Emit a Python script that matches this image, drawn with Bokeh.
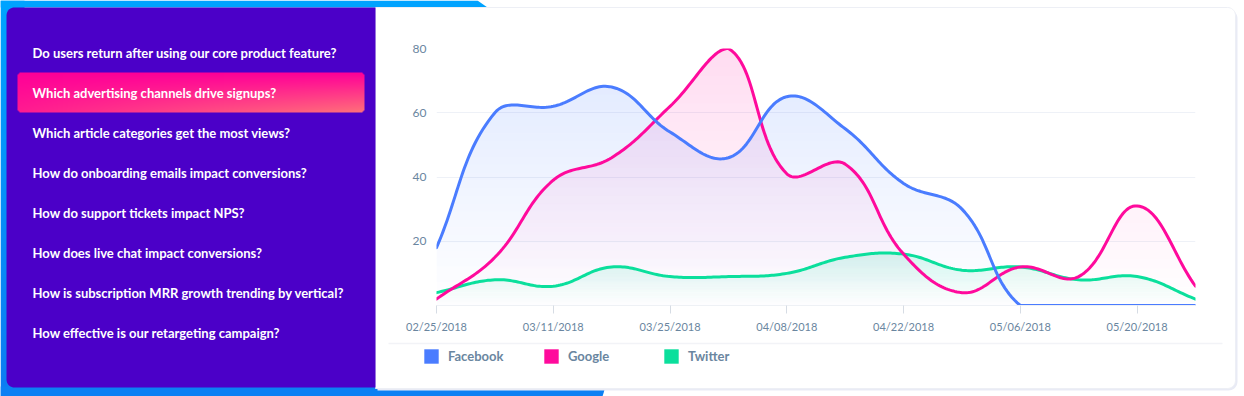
import numpy as np
import pandas as pd
from bokeh.plotting import figure
from bokeh.models import (Range1d, FixedTicker, DatetimeTickFormatter, Legend, LegendItem)
from bokeh.core.properties import value
from bokeh.embed import file_html
from bokeh.resources import INLINE

# ---------------- data ----------------
questions = [
    "Do users return after using our core product feature?",
    "Which advertising channels drive signups?",
    "Which article categories get the most views?",
    "How do onboarding emails impact conversions?",
    "How do support tickets impact NPS?",
    "How does live chat impact conversions?",
    "How is subscription MRR growth trending by vertical?",
    "How effective is our retargeting campaign?",
]
selected_question = 1

dates = ["2018-02-25", "2018-03-04", "2018-03-11", "2018-03-18", "2018-03-25",
         "2018-04-01", "2018-04-08", "2018-04-15", "2018-04-22", "2018-04-29",
         "2018-05-06", "2018-05-13", "2018-05-20", "2018-05-27"]
facebook = [18, 60, 62, 68, 54, 46, 65, 55, 38, 30, 0, 0, 0, 0]
google = [2, 15, 39, 46, 62, 80, 41, 44, 16, 4, 12, 9, 31, 6]
twitter = [4, 8, 6, 12, 9, 9, 10, 15, 16, 11, 12, 8, 9, 2]

series_names = ["Facebook", "Google", "Twitter"]
series_values = [facebook, google, twitter]
series_colors = ["#4A7CFF", "#FF0A9C", "#0BDF9C"]

tick_dates = ["2018-02-25", "2018-03-11", "2018-03-25", "2018-04-08",
              "2018-04-22", "2018-05-06", "2018-05-20"]
y_ticks = [20, 40, 60, 80]

FONT = "Lato"
LABEL_COLOR = "#6A86A0"
WIDTH, HEIGHT = 1244, 396


def rrect(x0, x1, y0, y1, r_tl, r_tr, r_br, r_bl, n=10):
    """Rounded rectangle outline in screen-like coords (y down); returns data xs, ys."""
    xs, ys = [], []
    corners = [((x1 - r_tr, y0 + r_tr), r_tr, -90, 0),
               ((x1 - r_br, y1 - r_br), r_br, 0, 90),
               ((x0 + r_bl, y1 - r_bl), r_bl, 90, 180),
               ((x0 + r_tl, y0 + r_tl), r_tl, 180, 270)]
    for (cx, cy), rad, a0, a1 in corners:
        a = np.radians(np.linspace(a0, a1, n))
        xs.extend(cx + rad * np.cos(a))
        ys.extend(-(cy + rad * np.sin(a)))
    return xs, ys


def gradient_image(h, w, c_a, c_b, tfunc):
    img = np.empty((h, w), dtype=np.uint32)
    v = img.view(dtype=np.uint8).reshape((h, w, 4))
    t = tfunc(h, w)
    for ch in range(3):
        v[..., ch] = (c_a[ch] + (c_b[ch] - c_a[ch]) * t).astype(np.uint8)
    v[..., 3] = 255
    return img, v


# ---------------- background / decoration canvas ----------------
bg = figure(width=WIDTH, height=HEIGHT, x_range=Range1d(0, WIDTH), y_range=Range1d(-HEIGHT, 0),
            x_axis_type=None, y_axis_type=None, output_backend="svg", toolbar_location=None,
            min_border=0, min_border_left=0, min_border_right=0, min_border_top=0,
            min_border_bottom=0, background_fill_color="white", border_fill_color="white",
            outline_line_color=None)

edge_img, _ = gradient_image(HEIGHT, 24, (12, 124, 242), (0, 164, 255),
                             lambda h, w: np.repeat(np.linspace(0, 1, h)[:, None], w, axis=1))
bg.image_rgba(image=[edge_img], x=0, y=-HEIGHT, dw=24, dh=HEIGHT)
bg.patch(x=[0, 477, 487, 0], y=[0, 0, -7, -7], fill_color="#00A3FF", line_color=None)
bg.patch(x=[0, 605, 602, 0], y=[-386, -386, -396, -396], fill_color="#0C80F3", line_color=None)

sx, sy = rrect(377, 1237, 9, 390, 0, 9, 9, 0)
bg.patch(x=sx, y=sy, fill_color="#E9EBF5", line_color=None)
cx_, cy_ = rrect(375, 1235, 7, 388, 0, 8, 8, 0)
bg.patch(x=cx_, y=cy_, fill_color="white", line_color="#EDEFF5", line_width=1)

px_, py_ = rrect(6, 375, 7, 387, 8, 0, 0, 8)
bg.patch(x=px_, y=py_, fill_color="#4B00C8", line_color=None)

H, W = 40, 347


def pill_t(h, w):
    u = np.linspace(0, 1, w)[None, :]
    vt = 1 - np.linspace(0, 1, h)[:, None]   # row 0 = bottom
    return np.clip(vt * (0.25 + 0.75 * u), 0, 1)


pill, pv = gradient_image(H, W, (255, 0, 152), (255, 112, 122), pill_t)
rr = 4
yy, xx = np.mgrid[0:H, 0:W]
for ccx, ccy in [(rr, rr), (W - 1 - rr, rr), (rr, H - 1 - rr), (W - 1 - rr, H - 1 - rr)]:
    in_corner = ((xx < rr) | (xx > W - 1 - rr)) & ((yy < rr) | (yy > H - 1 - rr))
    near = (np.abs(xx - ccx) <= rr) & (np.abs(yy - ccy) <= rr)
    far = np.hypot(xx - ccx, yy - ccy) > rr + 0.5
    mask = in_corner & near & far
    pv[..., 0][mask] = 75; pv[..., 1][mask] = 0; pv[..., 2][mask] = 200
sel_y = -(52 + 40 * selected_question)
bg.image_rgba(image=[pill], x=17, y=sel_y - 20, dw=W, dh=H)

q_y = [-(52 + 40 * i) for i in range(len(questions))]
bg.text(x=[32] * len(questions), y=q_y, text=questions, text_baseline="middle",
        text_align="left", text_font=value(FONT), text_font_style="bold",
        text_font_size="13px", text_color="white")

bg.line(x=[388, 1222], y=[-343, -343], line_color="#F2F3F7", line_width=1.5)

# legend for the three series (swatch renderers hold no visible geometry)
items = []
for name, col in zip(series_names, series_colors):
    r_ = bg.quad(left=[np.nan], right=[np.nan], top=[np.nan], bottom=[np.nan],
                 fill_color=col, line_color=None)
    items.append(LegendItem(label=name, renderers=[r_]))
legend = Legend(items=items, location=(422, 31), orientation="horizontal",
                glyph_width=18, glyph_height=18, label_height=18, label_standoff=8,
                label_width=94, spacing=0, padding=0, margin=0,
                border_line_color=None, background_fill_alpha=0,
                label_text_font=FONT, label_text_font_style="bold",
                label_text_font_size="13px", label_text_color=LABEL_COLOR)
bg.add_layout(legend)

# ---------------- chart ----------------
start_ms = pd.Timestamp(dates[0]).value / 1e6
end_ms = pd.Timestamp(dates[-1]).value / 1e6
days = np.array([(pd.Timestamp(d) - pd.Timestamp(dates[0])).days for d in dates], float)

PX_DAY = 759.0 / 91.0
PX_VAL = 257.0 / 80.0


def chartjs_spline(dd, vals, top_val, tension=0.4, samples=30):
    px = np.asarray(dd, float) * PX_DAY
    py = np.asarray(vals, float) * PX_VAL
    xmax = px[-1]
    ymax = top_val * PX_VAL
    n = len(px)
    cpp = np.zeros((n, 2)); cpn = np.zeros((n, 2))
    for i in range(n):
        a = max(i - 1, 0); c = min(i + 1, n - 1)
        d01 = np.hypot(px[i] - px[a], py[i] - py[a])
        d12 = np.hypot(px[c] - px[i], py[c] - py[i])
        tot = d01 + d12
        s01 = d01 / tot if tot else 0.0
        s12 = d12 / tot if tot else 0.0
        fa, fb = tension * s01, tension * s12
        dx, dy = px[c] - px[a], py[c] - py[a]
        cpp[i] = [np.clip(px[i] - fa * dx, 0, xmax), np.clip(py[i] - fa * dy, 0, ymax)]
        cpn[i] = [np.clip(px[i] + fb * dx, 0, xmax), np.clip(py[i] + fb * dy, 0, ymax)]
    xs, ys = [], []
    tt0 = np.linspace(0, 1, samples)
    for i in range(n - 1):
        P0 = np.array([px[i], py[i]]); P1 = cpn[i]; P2 = cpp[i + 1]
        P3 = np.array([px[i + 1], py[i + 1]])
        tt = tt0 if i == 0 else tt0[1:]
        pts = (((1 - tt) ** 3)[:, None] * P0 + (3 * (1 - tt) ** 2 * tt)[:, None] * P1
               + (3 * (1 - tt) * tt ** 2)[:, None] * P2 + (tt ** 3)[:, None] * P3)
        xs.append(pts[:, 0]); ys.append(pts[:, 1])
    xd = np.concatenate(xs) / PX_DAY
    yv = np.concatenate(ys) / PX_VAL
    return start_ms + xd * 86400000.0, yv


p = figure(width=WIDTH, height=HEIGHT, x_axis_type="datetime",
           x_range=Range1d(start_ms, end_ms), y_range=Range1d(0, y_ticks[-1]),
           output_backend="svg", toolbar_location=None,
           min_border_left=436, min_border_right=49, min_border_top=48, min_border_bottom=91,
           background_fill_alpha=0, border_fill_alpha=0, outline_line_color=None,
           styles={"position": "absolute", "left": "0px", "top": "0px"})

curves = [chartjs_spline(days, v, y_ticks[-1]) for v in series_values]
top_alphas = [0.15, 0.14, 0.16]

for idx in [2, 1, 0]:
    cx, cy = curves[idx]
    vmax = cy.max()
    nb = 28
    edges = np.linspace(0, vmax, nb + 1)
    for lo, hi in zip(edges[:-1], edges[1:]):
        mid = 0.5 * (lo + hi)
        p.varea(x=cx, y1=np.minimum(cy, lo), y2=np.minimum(cy, hi),
                fill_color=series_colors[idx], fill_alpha=top_alphas[idx] * mid / vmax)

for idx in [2, 1, 0]:
    cx, cy = curves[idx]
    p.line(cx, cy, line_color=series_colors[idx], line_width=3, line_join="round",
           line_cap="round")

tick_ms = [pd.Timestamp(d).value / 1e6 for d in tick_dates]
p.xaxis.ticker = FixedTicker(ticks=tick_ms)
fmt = "%m/%d/%Y"
p.xaxis.formatter = DatetimeTickFormatter(days=fmt, months=fmt, years=fmt, hours=fmt,
                                          hourmin=fmt, minutes=fmt, seconds=fmt,
                                          milliseconds=fmt, microseconds=fmt, minsec=fmt)
p.xaxis.axis_line_color = "#EEF1F5"
p.xaxis.major_tick_line_color = "#D6DCE4"
p.xaxis.major_tick_out = 8
p.xaxis.major_tick_in = 0
p.xaxis.minor_tick_line_color = None
p.xaxis.major_label_standoff = 6
p.xaxis.major_label_text_font = FONT
p.xaxis.major_label_text_font_size = "11px"
p.xaxis.major_label_text_color = LABEL_COLOR

p.yaxis.ticker = FixedTicker(ticks=y_ticks)
p.yaxis.axis_line_color = None
p.yaxis.major_tick_line_color = None
p.yaxis.minor_tick_line_color = None
p.yaxis.major_tick_out = 0
p.yaxis.major_tick_in = 0
p.yaxis.major_label_standoff = 10
p.yaxis.major_label_text_font = FONT
p.yaxis.major_label_text_font_size = "12px"
p.yaxis.major_label_text_color = LABEL_COLOR

p.xgrid.grid_line_color = None
p.ygrid.ticker = FixedTicker(ticks=y_ticks)
p.ygrid.grid_line_color = "#EEF1F7"

open("out.html", "w").write(file_html([bg, p], INLINE))
